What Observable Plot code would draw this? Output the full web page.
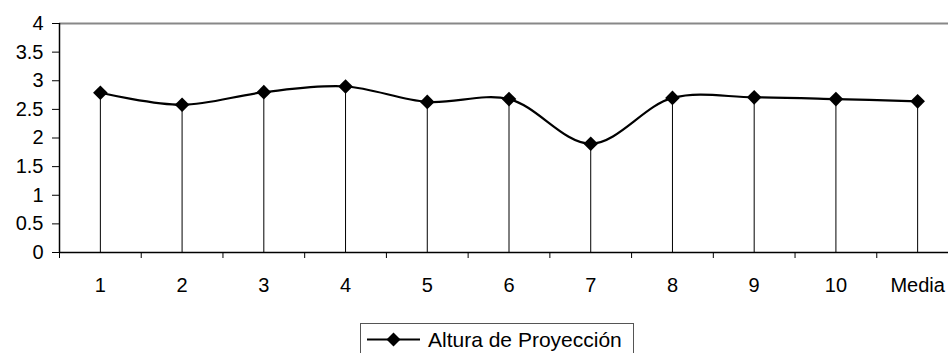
<!DOCTYPE html>
<html>
<head>
<meta charset="utf-8">
<script src="https://cdn.jsdelivr.net/npm/d3@7"></script>
<script src="https://cdn.jsdelivr.net/npm/@observablehq/plot@0.6"></script>
<style>
  html, body { margin: 0; padding: 0; background: #fff; overflow: hidden; }
  #wrap { position: relative; width: 948px; height: 353px; overflow: hidden; font-family: "Liberation Sans", Arial, sans-serif; }
  #legend { position: absolute; left: 360px; top: 323px; width: 272px; height: 40px; border: 1px solid #555; background: #fff; }
  #legend span { position: absolute; left: 67px; top: 4px; font-size: 21px; line-height: normal; color: #000; white-space: nowrap; }
</style>
</head>
<body>
<div id="wrap"></div>
<script>
const categories = ["1", "2", "3", "4", "5", "6", "7", "8", "9", "10", "Media"];
const values = [2.79, 2.58, 2.80, 2.90, 2.63, 2.68, 1.90, 2.70, 2.71, 2.68, 2.64];
const yTicks = [0, 0.5, 1, 1.5, 2, 2.5, 3, 3.5, 4];
const yTickLabels = ["0", "0.5", "1", "1.5", "2", "2.5", "3", "3.5", "4"];
const seriesName = "Altura de Proyección";

const data = categories.map((c, i) => ({i, c, v: values[i]}));
const idx = categories.map((c, i) => i);
const bounds = categories.map((c, i) => i - 0.5);

const chart = Plot.plot({
  width: 948,
  height: 300,
  marginTop: 23,
  marginBottom: 48,
  marginLeft: 59,
  marginRight: 0,
  style: {fontFamily: "'Liberation Sans', Arial, sans-serif", fontSize: "20px", color: "#000", background: "transparent"},
  x: {type: "linear", domain: [-0.5, categories.length - 0.5], range: [59, 958]},
  y: {domain: [0, 4]},
  marks: [
    Plot.ruleY([4], {stroke: "#888", strokeWidth: 2}),
    Plot.ruleX(data, {x: "i", y1: 0, y2: "v", stroke: "#000", strokeWidth: 1}),
    Plot.ruleX([-0.5], {y1: 0, y2: 4, stroke: "#000", strokeWidth: 1.5}),
    Plot.ruleY([0], {stroke: "#000", strokeWidth: 1.5}),
    Plot.axisY({ticks: yTicks, tickSize: 7, tickPadding: 9, fontSize: 20, tickFormat: (d) => yTickLabels[yTicks.indexOf(d)], label: null, stroke: "#000"}),
    Plot.axisX({ticks: bounds, tickSize: 6, tickFormat: () => "", label: null, stroke: "#000"}),
    Plot.axisX({ticks: idx, tickSize: 0, tickPadding: 25, fontSize: 20, tickFormat: (i) => categories[i], label: null}),
    Plot.line(data, {x: "i", y: "v", curve: "catmull-rom", stroke: "#000", strokeWidth: 2.2}),
    Plot.dot(data, {x: "i", y: "v", symbol: "diamond2", r: 6.6, fill: "#000", stroke: "none"})
  ]
});

const wrap = document.getElementById("wrap");
wrap.appendChild(chart);

const legend = document.createElement("div");
legend.id = "legend";
legend.innerHTML = `<svg width="70" height="40" style="position:absolute;left:0;top:0">
  <line x1="6" y1="15.5" x2="59" y2="15.5" stroke="#000" stroke-width="2.2"></line>
  <path d="M32.5,8.5 L39.5,15.5 L32.5,22.5 L25.5,15.5 Z" fill="#000"></path>
</svg><span></span>`;
legend.querySelector("span").textContent = seriesName;
wrap.appendChild(legend);
</script>
</body>
</html>
